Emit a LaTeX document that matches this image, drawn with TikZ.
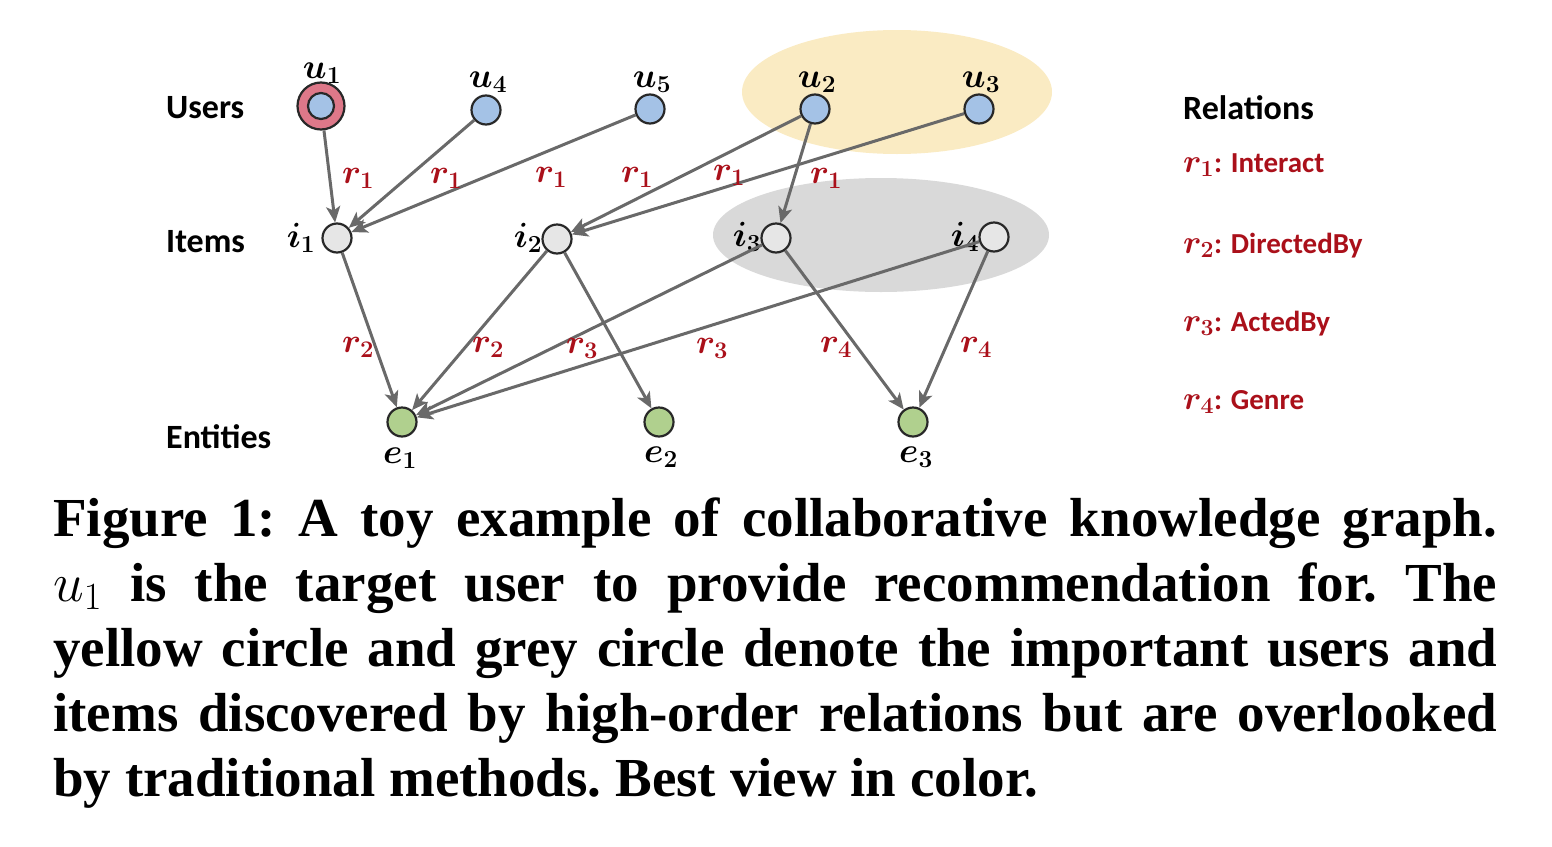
\RequirePackage{fix-cm}
\documentclass[tikz,border=0pt]{standalone}
\usepackage{amsmath,amssymb}
\usepackage{fontspec}
\newfontfamily\calib{Carlito}
\newfontfamily\capfont{Liberation Serif}
\usetikzlibrary{arrows.meta}
\definecolor{userblue}{RGB}{164,194,230}
\definecolor{ringred}{RGB}{222,120,137}
\definecolor{itemgray}{RGB}{230,230,230}
\definecolor{entgreen}{RGB}{176,208,142}
\definecolor{yellowbg}{RGB}{250,235,195}
\definecolor{graybg}{RGB}{217,217,217}
\definecolor{edgegray}{RGB}{105,105,105}
\definecolor{nodeline}{RGB}{40,40,40}
\definecolor{relred}{RGB}{170,16,26}
\newcommand{\legr}[1]{{\fontsize{33}{35}\selectfont$r_{#1}$}}
\tikzset{
  basenode/.style={circle, draw=nodeline, line width=2.2pt, minimum size=29pt, inner sep=0pt},
  unode/.style={basenode, fill=userblue},
  inode/.style={basenode, fill=itemgray},
  enode/.style={basenode, fill=entgreen},
  edge/.style={draw=edgegray, line width=3pt, -{Stealth[length=16pt,width=14pt,inset=4pt]}},
  rlab/.style={text=relred, font=\boldmath\fontsize{34}{36}\selectfont, anchor=base, inner sep=0pt},
  mlab/.style={font=\boldmath\fontsize{35}{37}\selectfont, anchor=base, inner sep=0pt},
  rowlab/.style={font=\calib\bfseries\fontsize{34}{36}\selectfont, anchor=base west, inner sep=0pt},
  leglab/.style={text=relred, font=\calib\bfseries\boldmath\fontsize{29}{31}\selectfont, anchor=base west, inner sep=0pt},
  capline/.style={font=\capfont\bfseries\fontsize{55}{65}\selectfont\frenchspacing, anchor=base west, inner sep=0pt},
}
\begin{document}
\begin{tikzpicture}[x=1pt,y=-1pt]
\useasboundingbox (0,0) rectangle (1552,846);
% highlight ellipses
\fill[yellowbg] (897,92) ellipse [x radius=155pt, y radius=62pt];
\fill[graybg] (881,235) ellipse [x radius=168pt, y radius=57pt];

% row labels
\node[rowlab] (lusers) at (166,118) {Users};
\node[rowlab] (litems) at (166,252) {Items};
\node[rowlab] (lents) at (166,448) {Entities};

% users
\node[circle, draw=nodeline, line width=2.2pt, fill=ringred, minimum size=47pt, inner sep=0pt] (u1) at (321,106) {};
\node[unode, minimum size=26pt] (u1in) at (321,106) {};
\node[unode] (u4) at (486,110) {};
\node[unode] (u5) at (650,109) {};
\node[unode] (u2) at (815,109) {};
\node[unode] (u3) at (979,109) {};

% items
\node[inode] (i1) at (337,238) {};
\node[inode] (i2) at (557,239) {};
\node[inode] (i3) at (776,238) {};
\node[inode] (i4) at (994,237) {};

% entities
\node[enode] (e1) at (402,422) {};
\node[enode] (e2) at (659,422) {};
\node[enode] (e3) at (913,422) {};

% node labels
\node[mlab] (tu1) at (322,78) {$u_1$};
\node[mlab] (tu4) at (488,87) {$u_4$};
\node[mlab] (tu5) at (652,87) {$u_5$};
\node[mlab] (tu2) at (817,87) {$u_2$};
\node[mlab] (tu3) at (981,87) {$u_3$};
\node[mlab] (ti1) at (301,247) {$i_1$};
\node[mlab] (ti2) at (528,247) {$i_2$};
\node[mlab] (ti3) at (747,246) {$i_3$};
\node[mlab] (ti4) at (965,246) {$i_4$};
\node[mlab] (te1) at (400,463) {$e_1$};
\node[mlab] (te2) at (661,462) {$e_2$};
\node[mlab] (te3) at (916,462) {$e_3$};

% edges users -> items
\draw[edge] (u1) -- (i1);
\draw[edge] (u4) -- (i1);
\draw[edge] (u5) -- (i1);
\draw[edge] (u2) -- (i2);
\draw[edge] (u3) -- (i2);
\draw[edge] (u2) -- (i3);
% edges items -> entities
\draw[edge] (i1) -- (e1);
\draw[edge] (i2) -- (e1);
\draw[edge] (i2) -- (e2);
\draw[edge] (i3) -- (e1);
\draw[edge] (i4) -- (e1);
\draw[edge] (i3) -- (e3);
\draw[edge] (i4) -- (e3);

% edge labels
\node[rlab] (r1a) at (358,183) {$r_1$};
\node[rlab] (r1b) at (446,183) {$r_1$};
\node[rlab] (r1c) at (551,182) {$r_1$};
\node[rlab] (r1d) at (637,182) {$r_1$};
\node[rlab] (r1e) at (729,180) {$r_1$};
\node[rlab] (r1f) at (826,183) {$r_1$};
\node[rlab] (r2a) at (358,352) {$r_2$};
\node[rlab] (r2b) at (488,352) {$r_2$};
\node[rlab] (r3a) at (582,353) {$r_3$};
\node[rlab] (r3b) at (712,353) {$r_3$};
\node[rlab] (r4a) at (836,352) {$r_4$};
\node[rlab] (r4b) at (976,352) {$r_4$};

% legend
\node[rowlab] (lrel) at (1183,119) {Relations};
\node[leglab] (leg1) at (1183,172) {\legr{1}: Interact};
\node[leglab] (leg2) at (1183,253) {\legr{2}: DirectedBy};
\node[leglab] (leg3) at (1183,331) {\legr{3}: ActedBy};
\node[leglab] (leg4) at (1183,409) {\legr{4}: Genre};

% caption
\node[capline] (c1) at (53,536) {\makebox[1444pt][s]{Figure 1: A toy example of collaborative knowledge graph.}};
\node[capline] (c2) at (53,601) {\makebox[1444pt][s]{$u_1$ is the target user to provide recommendation for. The}};
\node[capline] (c3) at (53,666) {\makebox[1444pt][s]{yellow circle and grey circle denote the important users and}};
\node[capline] (c4) at (53,731) {\makebox[1444pt][s]{items discovered by high-order relations but are overlooked}};
\node[capline] (c5) at (53,796) {by traditional methods. Best view in color.};
\end{tikzpicture}
\end{document}
